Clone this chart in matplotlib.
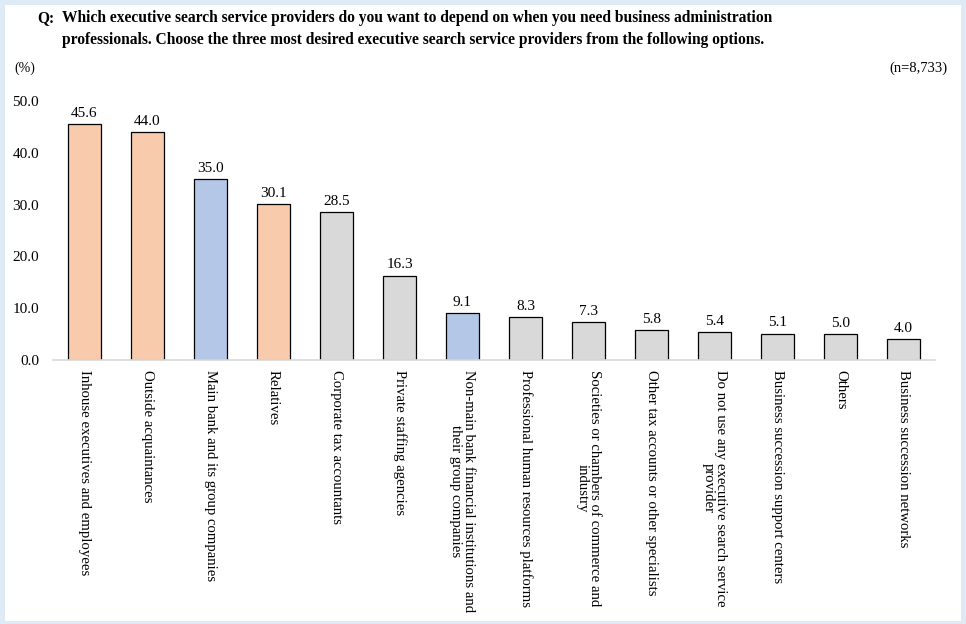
import matplotlib.pyplot as plt
from matplotlib.patches import Rectangle

plt.rcParams['font.family'] = ['Liberation Serif', 'DejaVu Serif']

categories = [
    "Inhouse executives and employees",
    "Outside acquaintances",
    "Main bank and its group companies",
    "Relatives",
    "Corporate tax accountants",
    "Private staffing agencies",
    "Non-main bank financial institutions and\ntheir group companies",
    "Professional human resources platforms",
    "Societies or chambers of commerce and\nindustry",
    "Other tax accounts or other specialists",
    "Do not use any executive search service\nprovider",
    "Business succession support centers",
    "Others",
    "Business succession networks",
]
values = [45.6, 44.0, 35.0, 30.1, 28.5, 16.3, 9.1, 8.3, 7.3, 5.8, 5.4, 5.1, 5.0, 4.0]
groups = ["o", "o", "b", "o", "g", "g", "b", "g", "g", "g", "g", "g", "g", "g"]
yticks = [0, 10, 20, 30, 40, 50]

group_colors = {"o": "#F8CBAD", "b": "#B4C7E7", "g": "#D9D9D9"}

W, H = 966, 624
fig = plt.figure(figsize=(W / 100, H / 100), dpi=100)
fig.patch.set_facecolor("#DEEAF6")
fig.patches.append(Rectangle((5 / W, 3 / H), 956 / W, 616 / H, transform=fig.transFigure,
                             facecolor="white", edgecolor="none", zorder=-10))

ax = fig.add_axes([53 / W, (H - 360) / H, (935 - 53) / W, (360 - 101) / H])
ax.set_facecolor("none")

x = list(range(len(values)))
colors = [group_colors[g] for g in groups]
ax.bar(x, values, width=0.51, color=colors, edgecolor="black", linewidth=0.9, zorder=2)

for xi, v in zip(x, values):
    ax.annotate(f"{v:.1f}", (xi, v), xytext=(0, 3), textcoords="offset points",
                ha="center", va="bottom", fontsize=11, annotation_clip=False)

ax.set_xlim(-0.5, len(values) - 0.5)
ax.set_ylim(0, 50)
ax.set_yticks(yticks)
ax.set_yticklabels([f"{t:.1f}" for t in yticks], fontsize=11)
ax.set_xticks(x)
ax.set_xticklabels(categories, rotation=270, fontsize=10.6, ha="center", va="top",
                   multialignment="center", linespacing=1.0)
ax.tick_params(axis="both", length=0)
ax.tick_params(axis="y", pad=10)
ax.tick_params(axis="x", pad=7)

for s in ["top", "right", "left"]:
    ax.spines[s].set_visible(False)
ax.spines["bottom"].set_color("#D9D9D9")
ax.spines["bottom"].set_linewidth(1.2)

fig.text(37 / W, 1 - 18 / H, "Q:", fontsize=11.2, fontweight="bold", va="center", ha="left")
fig.text(62 / W, 1 - 18 / H,
         "Which executive search service providers do you want to depend on when you need business administration",
         fontsize=11.2, fontweight="bold", va="center", ha="left")
fig.text(62 / W, 1 - 40 / H,
         "professionals. Choose the three most desired executive search service providers from the following options.",
         fontsize=11.2, fontweight="bold", va="center", ha="left")
fig.text(14 / W, 1 - 68 / H, "(%)", fontsize=10, va="center", ha="left")
fig.text(948 / W, 1 - 68 / H, "(n=8,733)", fontsize=10.5, va="center", ha="right")

fig.savefig("out.png", dpi=100, facecolor=fig.get_facecolor())
